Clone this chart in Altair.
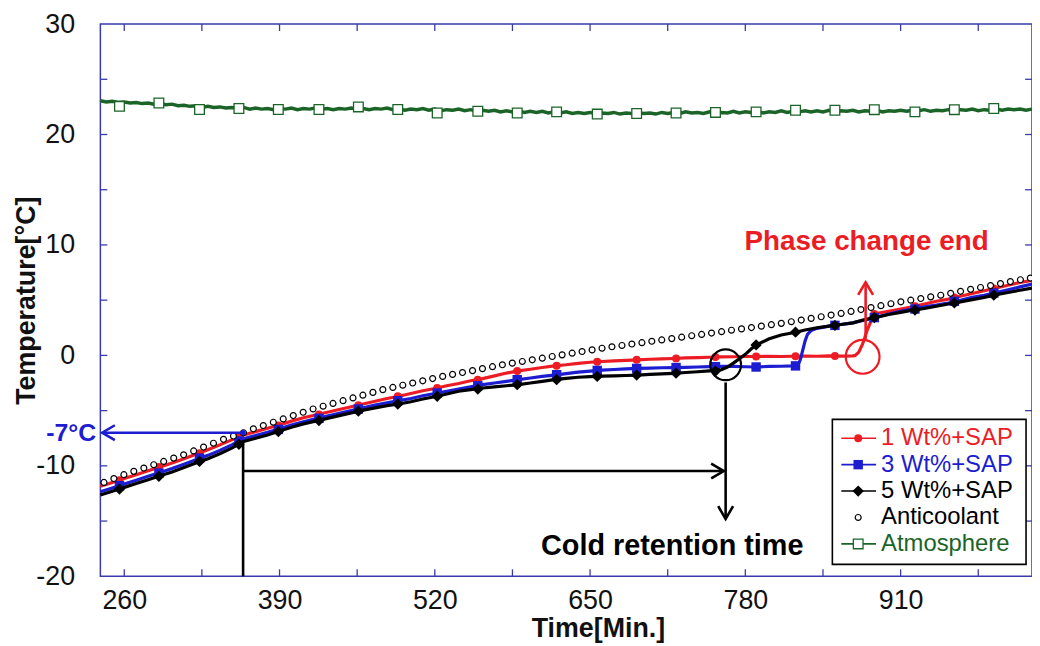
import altair as alt
import pandas as pd

# ---------------- data ----------------
x_label_values = [260, 390, 520, 650, 780, 910]
y_label_values = [-20, -10, 0, 10, 20, 30]
x_frame_ticks = [260, 325, 390, 455, 520, 585, 650, 715, 780, 845, 910, 975]
y_frame_ticks = [-15, -10, -5, 0, 5, 10, 15, 20, 25]

series_names = ["1 Wt%+SAP", "3 Wt%+SAP", "5 Wt%+SAP", "Anticoolant", "Atmosphere"]

# measured lines, every 10 min
line_time = list(range(240, 1021, 10))
red_temp = [-11.85, -11.5, -11.15, -10.8, -10.45, -10.1, -9.75, -9.35, -8.95, -8.55,
            -8.1, -7.65, -7.2, -6.9, -6.6, -6.3, -5.95, -5.65, -5.4, -5.15,
            -4.9, -4.65, -4.4, -4.15, -3.9, -3.7, -3.45, -3.2, -3.0, -2.75,
            -2.55, -2.3, -2.1, -1.85, -1.6, -1.4, -1.25, -1.1, -0.95, -0.85,
            -0.72, -0.62, -0.55, -0.5, -0.45, -0.4, -0.35, -0.32, -0.28, -0.23,
            -0.2, -0.17, -0.14, -0.12, -0.1, -0.1, -0.08, -0.1, -0.08, -0.06,
            -0.08, -0.05, -0.06, -0.04, 1.6, 3.8, 4.0, 4.2, 4.4, 4.65,
            4.9, 5.1, 5.35, 5.6, 5.85, 6.1, 6.35, 6.6, 6.8]
blue_temp = [-12.35, -12.0, -11.65, -11.3, -10.95, -10.6, -10.25, -9.85, -9.45, -9.05,
             -8.6, -8.1, -7.55, -7.25, -6.95, -6.65, -6.3, -6.0, -5.75, -5.5,
             -5.25, -5.0, -4.75, -4.5, -4.3, -4.1, -3.9, -3.65, -3.45, -3.25,
             -3.05, -2.85, -2.65, -2.5, -2.35, -2.2, -2.05, -1.9, -1.78, -1.65,
             -1.52, -1.42, -1.34, -1.28, -1.22, -1.18, -1.15, -1.12, -1.1, -1.08,
             -1.05, -1.02, -1.0, -1.0, -1.03, -1.05, -1.0, -0.98, -0.95, 1.3,
             2.45, 2.65, 2.8, 2.95, 3.2, 3.45, 3.75, 4.0, 4.2, 4.4,
             4.55, 4.75, 5.0, 5.25, 5.45, 5.7, 5.95, 6.2, 6.45]
black_temp = [-12.65, -12.3, -11.95, -11.6, -11.25, -10.9, -10.55, -10.15, -9.75, -9.35,
              -8.9, -8.4, -7.8, -7.5, -7.2, -6.85, -6.5, -6.2, -5.95, -5.7,
              -5.45, -5.2, -4.95, -4.75, -4.55, -4.4, -4.2, -3.95, -3.75, -3.5,
              -3.25, -3.1, -2.95, -2.85, -2.75, -2.65, -2.5, -2.35, -2.2, -2.08,
              -1.98, -1.92, -1.88, -1.85, -1.82, -1.78, -1.72, -1.68, -1.62, -1.55,
              -1.48, -1.4, -1.3, -0.7, 0.1, 1.0, 1.5, 1.85, 2.05, 2.3,
              2.5, 2.65, 2.8, 2.95, 3.25, 3.45, 3.7, 3.9, 4.1, 4.25,
              4.45, 4.65, 4.85, 5.05, 5.25, 5.5, 5.7, 5.9, 6.1]

# extra readings around the steep phase-change steps
red_step_time = [872, 875, 878, 882, 886]
red_step_temp = [0.0, 0.3, 1.0, 2.3, 3.3]
blue_step_time = [824, 826, 832, 835]
blue_step_temp = [-0.9, -0.4, 1.9, 2.25]
black_step_time = [765, 775, 785]
black_step_temp = [-1.05, -0.3, 0.6]

# marker positions (one marker every ~33 min)
marker_time = [256, 289, 323, 356, 389, 423, 456, 489, 522, 556, 589, 622,
               656, 689, 722, 755, 789, 822, 855, 888, 922, 955, 988]
red_marker = [-11.3, -10.1, -8.85, -7.4, -6.35, -5.35, -4.5, -3.7, -2.95, -2.2, -1.42, -0.94,
              -0.58, -0.4, -0.27, -0.15, -0.1, -0.08, -0.05, 3.75, 4.45, 5.25, 6.05]
blue_marker = [-11.8, -10.65, -9.3, -7.75, -6.7, -5.7, -4.85, -4.1, -3.4, -2.75, -2.2, -1.75,
               -1.36, -1.18, -1.1, -1.02, -1.05, -0.95, 2.72, 3.42, 4.2, 4.9, 5.65]
black_marker = [-12.1, -10.95, -9.6, -8.05, -6.9, -5.9, -5.05, -4.4, -3.7, -3.05, -2.65, -2.2,
                -1.9, -1.78, -1.61, -1.42, 0.95, 2.1, 2.72, 3.43, 4.1, 4.75, 5.45]
atm_marker = [22.55, 22.85, 22.27, 22.36, 22.27, 22.27, 22.5, 22.27, 21.95, 22.1, 21.95, 22.05,
              21.85, 21.9, 21.95, 22.0, 22.05, 22.2, 22.2, 22.25, 22.05, 22.25, 22.35]

# anticoolant (open circles)
anti_time = [round(243 + 8.34 * i, 1) for i in range(94)]
anti_temp = [-11.5, -11.15, -10.8, -10.5, -10.2, -9.9, -9.6, -9.3, -9.0, -8.65,
             -8.3, -7.95, -7.6, -7.3, -7.0, -6.65, -6.35, -6.05, -5.75, -5.45,
             -5.15, -4.85, -4.6, -4.35, -4.1, -3.85, -3.6, -3.35, -3.1, -2.9,
             -2.7, -2.5, -2.3, -2.1, -1.9, -1.72, -1.55, -1.38, -1.2, -1.02,
             -0.85, -0.7, -0.55, -0.4, -0.25, -0.1, 0.05, 0.2, 0.35, 0.5,
             0.65, 0.78, 0.9, 1.03, 1.15, 1.28, 1.4, 1.52, 1.65, 1.78,
             1.9, 2.02, 2.15, 2.28, 2.4, 2.52, 2.65, 2.78, 2.9, 3.05,
             3.2, 3.35, 3.5, 3.65, 3.8, 3.98, 4.15, 4.33, 4.5, 4.68,
             4.85, 5.0, 5.15, 5.3, 5.45, 5.62, 5.8, 5.98, 6.15, 6.32,
             6.5, 6.68, 6.85, 7.0]

# atmosphere, every 5 min
atm_time = list(range(240, 1021, 5))
atm_temp = [23.05, 22.95, 23.0, 22.9, 22.95, 22.85, 22.9, 22.8, 22.85, 22.75,
            22.8, 22.7, 22.75, 22.6, 22.65, 22.55, 22.6, 22.45, 22.55, 22.45,
            22.5, 22.4, 22.45, 22.35, 22.45, 22.3, 22.4, 22.3, 22.35, 22.25,
            22.35, 22.3, 22.4, 22.25, 22.35, 22.3, 22.4, 22.3, 22.35, 22.25,
            22.35, 22.3, 22.4, 22.3, 22.35, 22.25, 22.35, 22.3, 22.4, 22.25,
            22.3, 22.2, 22.3, 22.25, 22.35, 22.2, 22.3, 22.15, 22.25, 22.2,
            22.3, 22.15, 22.25, 22.1, 22.2, 22.1, 22.2, 22.05, 22.15, 22.05,
            22.15, 22.0, 22.1, 22.0, 22.1, 21.95, 22.05, 21.95, 22.05, 21.9,
            22.0, 21.9, 22.0, 21.85, 21.95, 21.9, 22.0, 21.85, 21.95, 21.9,
            22.0, 21.9, 21.95, 21.85, 22.0, 21.9, 22.0, 21.9, 22.05, 21.95,
            22.0, 21.9, 22.05, 21.95, 22.0, 21.95, 22.1, 21.95, 22.05, 22.0,
            22.1, 21.95, 22.05, 22.0, 22.15, 22.0, 22.1, 22.05, 22.15, 22.05,
            22.15, 22.05, 22.2, 22.05, 22.15, 22.1, 22.2, 22.05, 22.15, 22.1,
            22.2, 22.05, 22.15, 22.1, 22.2, 22.1, 22.2, 22.15, 22.25, 22.1,
            22.2, 22.15, 22.25, 22.15, 22.25, 22.2, 22.3, 22.15, 22.25, 22.2,
            22.3, 22.2, 22.3, 22.25, 22.3, 22.2, 22.3]

# annotation anchors (time, temperature)
target_temp = -7.0
t_reach = 359.5
t_retention_end = 762.0
retention_arrow_temp = -10.47
t_cross = 763.5
t_phase_end = 880.7

# ---------------- style ----------------
FONT = "Liberation Sans"
FRAME = "#3a3aae"
RED = "#ec1c24"
BLUE = "#1c1cd0"
BLACK = "#000000"
GREEN = "#1b6428"

xs = alt.Scale(domain=[240, 1020], nice=False, zero=False)
ys = alt.Scale(domain=[-20, 30], nice=False, zero=False)

x_axis = alt.Axis(values=x_label_values, title="Time[Min.]", grid=False, ticks=False, tickSize=0,
                  domain=False, labelFontSize=27, labelFont=FONT, labelColor="#111111",
                  labelPadding=11, labelFlush=False, labelOverlap=False,
                  titleFont=FONT, titleFontSize=27, titleFontWeight="bold", titleColor="#111111",
                  titleX=501, titleY=61, titleAlign="center", titleBaseline="alphabetic")
y_axis = alt.Axis(values=y_label_values, title="Temperature[°C]", grid=False, ticks=False, tickSize=0,
                  domain=False, labelFontSize=27, labelFont=FONT, labelColor="#111111",
                  labelPadding=26, labelFlush=False, labelOverlap=False,
                  labelExpr="'' + datum.value",
                  titleFont=FONT, titleFontSize=27, titleFontWeight="bold", titleColor="#111111",
                  titleX=-74, titleY=278, titleAngle=270, titleAlign="center", titleBaseline="middle")


def X(field="t"):
    return alt.X(f"{field}:Q", scale=xs, axis=x_axis)


def Y(field="T"):
    return alt.Y(f"{field}:Q", scale=ys, axis=y_axis)


def merged(times, temps, extra_t, extra_v):
    df = pd.DataFrame({"t": list(times) + list(extra_t), "T": list(temps) + list(extra_v)})
    return df.sort_values("t").reset_index(drop=True)


layers = []

# atmosphere
atm_df = pd.DataFrame({"t": atm_time, "T": atm_temp})
atm_m = pd.DataFrame({"t": marker_time, "T": atm_marker})
layers.append(alt.Chart(atm_df).mark_line(color=GREEN, strokeWidth=3.5).encode(x=X(), y=Y()))
layers.append(alt.Chart(atm_m).mark_point(shape="square", size=95, filled=True, fill="white",
                                          stroke=GREEN, strokeWidth=1.3, opacity=1).encode(x=X(), y=Y()))

# SAP series
specs = [
    (merged(line_time, red_temp, red_step_time, red_step_temp), red_marker, RED, "circle", 64),
    (merged(line_time, blue_temp, blue_step_time, blue_step_temp), blue_marker, BLUE, "square", 90),
    (merged(line_time, black_temp, black_step_time, black_step_temp), black_marker, BLACK, "diamond", 130),
]
for df, mk, col, shp, sz in specs:
    layers.append(alt.Chart(df).mark_line(color=col, strokeWidth=3.2).encode(x=X(), y=Y()))
    mdf = pd.DataFrame({"t": marker_time, "T": mk})
    layers.append(alt.Chart(mdf).mark_point(shape=shp, size=sz, filled=True, color=col, opacity=1)
                  .encode(x=X(), y=Y()))

# anticoolant
anti_df = pd.DataFrame({"t": anti_time, "T": anti_temp})
layers.append(alt.Chart(anti_df).mark_point(shape="circle", size=36, filled=True, fill="white",
                                            stroke=BLACK, strokeWidth=1.2, opacity=1)
              .encode(x=X(), y=Y()))

# ---------------- annotations ----------------
seg = pd.DataFrame({
    "t": [242.0, t_reach, t_reach, t_cross, t_phase_end],
    "t2": [t_reach, t_reach, t_retention_end - 1, t_cross, t_phase_end],
    "T": [target_temp, -20.0, retention_arrow_temp, -2.45, 1.45],
    "T2": [target_temp, -7.7, retention_arrow_temp, -14.7, 6.5],
    "c": ["b", "k", "k", "k", "r"],
})
layers.append(alt.Chart(seg).mark_rule(strokeWidth=2.6).encode(
    x=X(), x2="t2:Q", y=Y(), y2="T2:Q",
    color=alt.Color("c:N", scale=alt.Scale(domain=["b", "k", "r"], range=[BLUE, BLACK, RED]), legend=None)))

heads = [
    (241.5, target_temp, "M1.7,-1L0,0L1.7,1", BLUE),
    (t_retention_end, retention_arrow_temp, "M-1.7,-1L0,0L-1.7,1", BLACK),
    (t_cross, -14.8, "M-1,-1.7L0,0L1,-1.7", BLACK),
    (t_phase_end, 6.62, "M-1,1.7L0,0L1,1.7", RED),
]
for ht, hT, path, col in heads:
    layers.append(alt.Chart(pd.DataFrame({"t": [ht], "T": [hT]})).mark_point(
        shape=path, size=225, filled=False, color=col, strokeWidth=2.6, opacity=1).encode(x=X(), y=Y()))

layers.append(alt.Chart(pd.DataFrame({"t": [t_reach], "T": [target_temp]})).mark_point(
    shape="circle", size=30, filled=True, color=BLUE, opacity=1).encode(x=X(), y=Y()))
layers.append(alt.Chart(pd.DataFrame({"t": [t_cross], "T": [-0.85]})).mark_point(
    shape="circle", size=961, filled=False, color=BLACK, strokeWidth=2.2, opacity=1).encode(x=X(), y=Y()))
layers.append(alt.Chart(pd.DataFrame({"t": [878.2], "T": [-0.13]})).mark_point(
    shape="circle", size=1156, filled=False, color=RED, strokeWidth=2.2, opacity=1).encode(x=X(), y=Y()))

texts = [
    ("-7°C", 236.5, target_temp, "right", "middle", BLUE, 25),
    ("Cold retention time", 718.8, -18.1, "center", "alphabetic", BLACK, 29),
    ("Phase change end", 881.5, 9.5, "center", "alphabetic", RED, 28),
]
for txt, tt, tT, al, bl, col, fs in texts:
    layers.append(alt.Chart(pd.DataFrame({"t": [tt], "T": [tT], "label": [txt]})).mark_text(
        align=al, baseline=bl, font=FONT, fontWeight="bold", fontSize=fs, color=col)
        .encode(x=X(), y=Y(), text="label:N"))

# frame ticks (inward, all four sides)
xt = pd.DataFrame({"t": x_frame_ticks})
yt = pd.DataFrame({"T": y_frame_ticks})
layers.append(alt.Chart(xt).mark_rule(color=FRAME, strokeWidth=1.3).encode(x=X(), y=alt.value(549), y2=alt.value(556)))
layers.append(alt.Chart(xt).mark_rule(color=FRAME, strokeWidth=1.3).encode(x=X(), y=alt.value(0), y2=alt.value(7)))
layers.append(alt.Chart(yt).mark_rule(color=FRAME, strokeWidth=1.3).encode(y=Y(), x=alt.value(0), x2=alt.value(7)))
layers.append(alt.Chart(yt).mark_rule(color=FRAME, strokeWidth=1.3).encode(y=Y(), x=alt.value(931), x2=alt.value(938)))

# ---------------- legend ----------------
one = pd.DataFrame({"a": [0]})
layers.append(alt.Chart(one).mark_rect(fill="white", stroke=BLACK, strokeWidth=1.6).encode(
    x=alt.value(737), x2=alt.value(932), y=alt.value(398), y2=alt.value(544)))
legend_style = [
    (RED, True, dict(shape="circle", size=64, filled=True, color=RED)),
    (BLUE, True, dict(shape="square", size=90, filled=True, color=BLUE)),
    (BLACK, True, dict(shape="diamond", size=130, filled=True, color=BLACK)),
    (BLACK, False, dict(shape="circle", size=36, filled=True, fill="white", stroke=BLACK, strokeWidth=1.2)),
    (GREEN, True, dict(shape="square", size=95, filled=True, fill="white", stroke=GREEN, strokeWidth=1.3)),
]
for i, (name, (col, has_line, mk)) in enumerate(zip(series_names, legend_style)):
    yy = 417 + 26.6 * i
    if has_line:
        layers.append(alt.Chart(one).mark_rule(color=col, strokeWidth=1.6).encode(
            x=alt.value(746), x2=alt.value(781), y=alt.value(yy)))
    layers.append(alt.Chart(one).mark_point(opacity=1, **mk).encode(x=alt.value(763), y=alt.value(yy)))
    layers.append(alt.Chart(pd.DataFrame({"label": [name]})).mark_text(
        align="left", baseline="middle", font=FONT, fontSize=24, color=col).encode(
        x=alt.value(786), y=alt.value(yy), text="label:N"))

chart = alt.layer(*layers).properties(
    width=938, height=556,
    autosize=alt.AutoSizeParams(type="none"),
    padding={"left": 93, "top": 14, "right": 0, "bottom": 66},
).configure_view(stroke=FRAME, strokeWidth=1.5)

chart.save("out.html", embed_options={"renderer": "svg", "actions": False})
